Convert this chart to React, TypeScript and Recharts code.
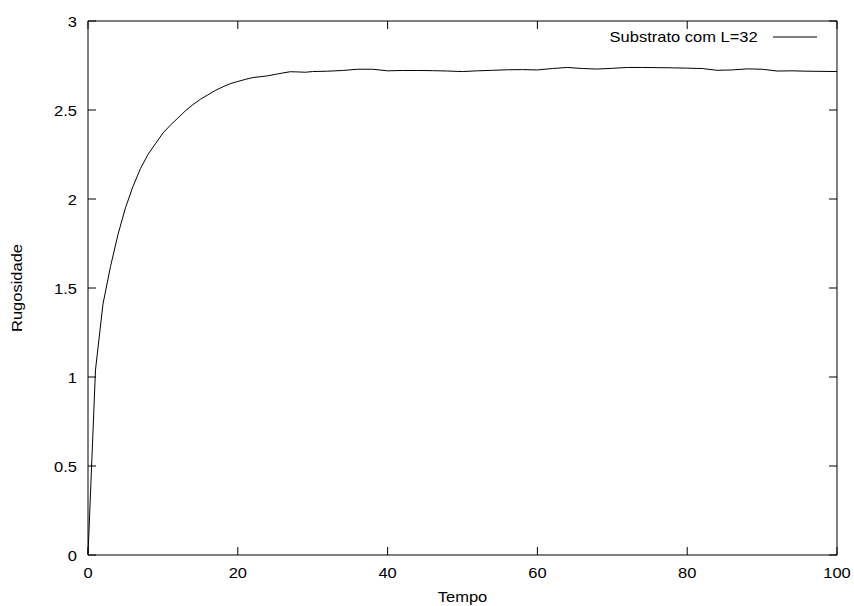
import React from "react";
import { Legend, Line, LineChart, XAxis, YAxis } from "recharts";

// Roughness of the substrate (L=32) over time
const tempo = [
  0, 1, 2, 3, 4, 5, 6, 7, 8, 9, 10, 11, 12, 13, 14, 15, 16, 17, 18, 19, 20,
  21, 22, 23, 24, 25, 26, 27, 28, 29, 30, 32, 34, 36, 38, 40, 42, 44, 46, 48,
  50, 52, 54, 56, 58, 60, 62, 64, 66, 68, 70, 72, 74, 76, 78, 80, 82, 84, 86,
  88, 90, 92, 94, 96, 98, 100,
];

const rugosidade = [
  0, 1.04, 1.41, 1.62, 1.8, 1.95, 2.07, 2.17, 2.25, 2.31, 2.37, 2.415, 2.455,
  2.495, 2.53, 2.56, 2.585, 2.61, 2.63, 2.648, 2.66, 2.672, 2.682, 2.687,
  2.692, 2.7, 2.708, 2.715, 2.714, 2.712, 2.716, 2.718, 2.722, 2.729, 2.729,
  2.72, 2.722, 2.722, 2.721, 2.719, 2.716, 2.72, 2.723, 2.726, 2.727, 2.725,
  2.733, 2.739, 2.733, 2.73, 2.734, 2.739, 2.739, 2.738, 2.737, 2.735, 2.733,
  2.723, 2.725, 2.731, 2.729, 2.719, 2.72, 2.718, 2.717, 2.716,
];

const xTicks = [0, 20, 40, 60, 80, 100];
const yTicks = [0, 0.5, 1, 1.5, 2, 2.5, 3];

const FONT = "'Liberation Sans', Arial, sans-serif";
const FONT_SIZE = 15;
const STRETCH = 1.1; // text is drawn a little wider than tall
const TICK_LEN = 8;

// chart layout
const WIDTH = 854;
const HEIGHT = 606;
const MARGIN = { top: 20, right: 16, bottom: 21, left: 28 };
const Y_AXIS_W = 60;
const X_AXIS_H = 30;
const PLOT_LEFT = MARGIN.left + Y_AXIS_W;
const PLOT_RIGHT = WIDTH - MARGIN.right - 1;
const PLOT_TOP = MARGIN.top + 1;
const PLOT_BOTTOM = HEIGHT - MARGIN.bottom - X_AXIS_H;

const data = tempo.map((t, i) => ({ t, r: rugosidade[i] }));

const axisLine = { stroke: "#000", strokeWidth: 1 };

// Text with a horizontal stretch, anchored at (x, y)
function Label(props: {
  x: number;
  y: number;
  anchor: "start" | "middle" | "end";
  rotate?: number;
  children: React.ReactNode;
}) {
  const { x, y, anchor, rotate = 0, children } = props;
  return (
    <g transform={`translate(${x},${y}) rotate(${rotate}) scale(${STRETCH},1)`}>
      <text
        x={0}
        y={0}
        textAnchor={anchor}
        fill="#000"
        fontSize={FONT_SIZE}
        fontFamily={FONT}
      >
        {children}
      </text>
    </g>
  );
}

// Tick marks point into the plot from each border
function BottomTick(props: any) {
  const { x, payload } = props;
  return (
    <g>
      <line x1={x} y1={PLOT_BOTTOM} x2={x} y2={PLOT_BOTTOM - TICK_LEN} stroke="#000" />
      <Label x={x} y={PLOT_BOTTOM + 23} anchor="middle">
        {payload.value}
      </Label>
    </g>
  );
}

function LeftTick(props: any) {
  const { y, payload } = props;
  return (
    <g>
      <line x1={PLOT_LEFT} y1={y} x2={PLOT_LEFT + TICK_LEN} y2={y} stroke="#000" />
      <Label x={PLOT_LEFT - 11} y={y + 5.5} anchor="end">
        {payload.value}
      </Label>
    </g>
  );
}

function TopTick(props: any) {
  const { x } = props;
  return <line x1={x} y1={PLOT_TOP} x2={x} y2={PLOT_TOP + TICK_LEN} stroke="#000" />;
}

function RightTick(props: any) {
  const { y } = props;
  return <line x1={PLOT_RIGHT} y1={y} x2={PLOT_RIGHT - TICK_LEN} y2={y} stroke="#000" />;
}

function YTitle(props: any) {
  const vb = props.viewBox ?? { x: 0, y: 0, width: 0, height: 0 };
  return (
    <Label x={vb.x - 6} y={vb.y + vb.height / 2} anchor="middle" rotate={-90}>
      Rugosidade
    </Label>
  );
}

function XTitle(props: any) {
  const vb = props.viewBox ?? { x: 0, y: 0, width: 0, height: 0 };
  return (
    <Label x={vb.x + vb.width / 2} y={vb.y + 47} anchor="middle">
      Tempo
    </Label>
  );
}

function KeyBox() {
  return (
    <div
      style={{
        display: "flex",
        alignItems: "center",
        justifyContent: "flex-end",
        fontFamily: FONT,
        fontSize: FONT_SIZE,
        color: "#000",
        lineHeight: 1,
      }}
    >
      <span
        style={{
          display: "inline-block",
          transform: `scaleX(${STRETCH})`,
          transformOrigin: "right center",
        }}
      >
        Substrato com L=32
      </span>
      <svg width={44} height={4} style={{ marginLeft: 15 }}>
        <line x1={0} y1={2} x2={44} y2={2} stroke="#000" strokeWidth={1} />
      </svg>
    </div>
  );
}

export default function App() {
  return (
    <div style={{ position: "absolute", left: 0, top: 0, background: "#fff" }}>
      <LineChart width={WIDTH} height={HEIGHT} data={data} margin={MARGIN}>
        <XAxis
          dataKey="t"
          type="number"
          domain={[0, 100]}
          ticks={xTicks}
          height={X_AXIS_H}
          axisLine={axisLine}
          tickLine={false}
          tickSize={0}
          tickMargin={0}
          tick={BottomTick}
          label={<XTitle />}
        />
        {/* mirrored top/right axes close the frame; a zero-size axis is not drawn */}
        <XAxis
          xAxisId="top"
          dataKey="t"
          orientation="top"
          type="number"
          domain={[0, 100]}
          ticks={xTicks}
          height={1}
          axisLine={axisLine}
          tickLine={false}
          tickSize={0}
          tickMargin={0}
          tick={TopTick}
        />
        <YAxis
          type="number"
          domain={[0, 3]}
          ticks={yTicks}
          width={Y_AXIS_W}
          axisLine={axisLine}
          tickLine={false}
          tickSize={0}
          tickMargin={0}
          tick={LeftTick}
          label={<YTitle />}
        />
        <YAxis
          yAxisId="right"
          orientation="right"
          type="number"
          domain={[0, 3]}
          ticks={yTicks}
          width={1}
          axisLine={axisLine}
          tickLine={false}
          tickSize={0}
          tickMargin={0}
          tick={RightTick}
        />
        <Legend
          layout="horizontal"
          verticalAlign="middle"
          align="center"
          content={<KeyBox />}
          wrapperStyle={{ position: "absolute", top: 29, left: 520, width: 297, height: 16 }}
        />
        {/* invisible copy bound to the top/right axes */}
        <Line
          xAxisId="top"
          yAxisId="right"
          dataKey="r"
          type="linear"
          stroke="none"
          dot={false}
          activeDot={false}
          legendType="none"
          isAnimationActive={false}
        />
        <Line
          dataKey="r"
          type="linear"
          stroke="#000"
          strokeWidth={1}
          dot={false}
          activeDot={false}
          isAnimationActive={false}
        />
      </LineChart>
    </div>
  );
}
